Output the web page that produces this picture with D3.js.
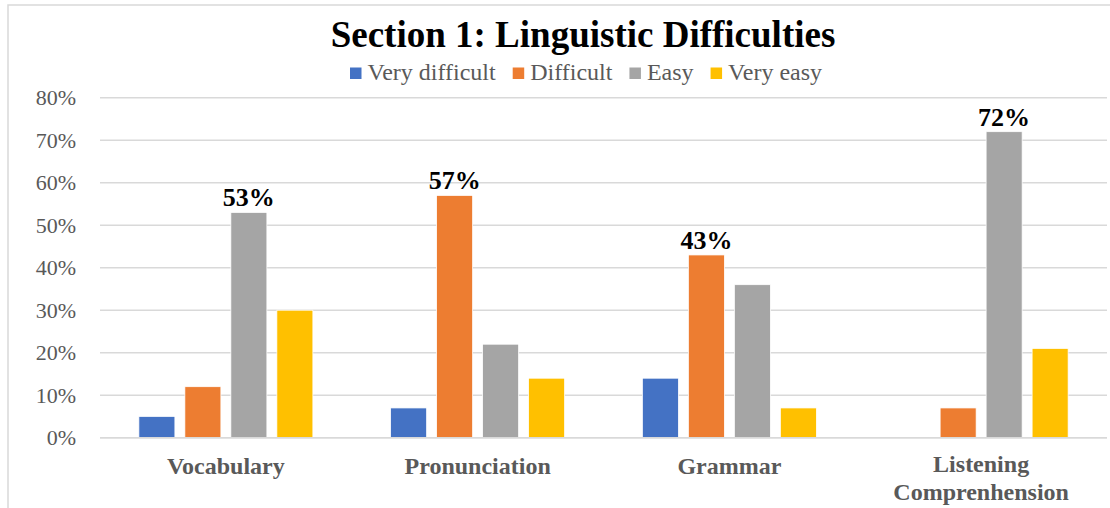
<!DOCTYPE html>
<html>
<head>
<meta charset="utf-8">
<script src="https://cdn.jsdelivr.net/npm/d3@7"></script>
<style>
  body { margin: 0; background: #fff; }
  svg text { font-family: "Liberation Serif", "Times New Roman", serif; }
</style>
</head>
<body>
<svg width="1110" height="508"></svg>
<script>
var categories = ["Vocabulary", "Pronunciation", "Grammar", "Listening Comprenhension"];
var keys = ["Very difficult", "Difficult", "Easy", "Very easy"];
var veryDifficult = [5, 7, 14, 0];
var difficult = [12, 57, 43, 7];
var easy = [53, 22, 36, 72];
var veryEasy = [30, 14, 7, 21];
var yTicks = [0, 10, 20, 30, 40, 50, 60, 70, 80];

var series = [veryDifficult, difficult, easy, veryEasy];
var data = categories.map(function(c, i) {
  var d = {name: c};
  keys.forEach(function(k, j) { d[k] = series[j][i]; });
  return d;
});

var z = d3.scaleOrdinal()
    .domain(keys)
    .range(["#4472c4", "#ed7d31", "#a5a5a5", "#ffc000"]);

var svg = d3.select("svg"),
    left = 100, right = 1107;

// chart border (top and left edges show in the picture)
svg.append("path")
    .attr("d", "M8,508V5H1110")
    .attr("fill", "none")
    .attr("stroke", "#d9d9d9")
    .attr("stroke-width", 1.5);

var x0 = d3.scaleBand()
    .domain(categories)
    .range([left, right]);

var x1 = d3.scaleBand()
    .domain(keys)
    .range([0, 174])
    .paddingInner(0.217);

var y = d3.scaleLinear()
    .domain([0, 80])
    .range([437.7, 97.7]);

// gridlines
svg.append("g")
  .selectAll("line")
  .data(yTicks)
  .enter().append("line")
    .attr("x1", left)
    .attr("x2", right)
    .attr("y1", function(d) { return y(d); })
    .attr("y2", function(d) { return y(d); })
    .attr("stroke", "#d9d9d9")
    .attr("stroke-width", 1.5);

// y axis labels
var yAxis = svg.append("g")
    .attr("transform", "translate(" + left + ",0)")
    .call(d3.axisLeft(y).tickValues(yTicks).tickSize(0).tickPadding(24)
      .tickFormat(function(d) { return d + "%"; }));
yAxis.select(".domain").remove();
yAxis.selectAll("text")
    .attr("font-size", 22)
    .attr("fill", "#595959");

// bars
var groups = svg.append("g")
  .selectAll("g")
  .data(data)
  .enter().append("g")
    .attr("transform", function(d) { return "translate(" + (x0(d.name) + x0.bandwidth() / 2 - 87) + ",0)"; });

groups.selectAll("rect")
  .data(function(d) { return keys.map(function(k) { return {key: k, value: d[k]}; }); })
  .enter().append("rect")
    .attr("x", function(d) { return x1(d.key); })
    .attr("y", function(d) { return y(d.value); })
    .attr("width", x1.bandwidth())
    .attr("height", function(d) { return y(0) - y(d.value); })
    .attr("fill", function(d) { return z(d.key); })
    .attr("stroke", "#fff")
    .attr("stroke-width", 0.75);

// data label on the highest bar of each group
groups.append("text")
    .datum(function(d) {
      var best = keys[0];
      keys.forEach(function(k) { if (d[k] > d[best]) best = k; });
      return {key: best, value: d[best]};
    })
    .attr("x", function(d) { return x1(d.key) + x1.bandwidth() / 2; })
    .attr("y", function(d) { return y(d.value) - 6; })
    .attr("text-anchor", "middle")
    .attr("font-size", 26)
    .attr("font-weight", "bold")
    .attr("fill", "#000")
    .text(function(d) { return d.value + "%"; });

// x baseline
svg.append("line")
    .attr("x1", left)
    .attr("x2", right)
    .attr("y1", y(0))
    .attr("y2", y(0))
    .attr("stroke", "#d9d9d9")
    .attr("stroke-width", 1.5);

// category labels
var catLabels = svg.append("g")
  .selectAll("text")
  .data(categories)
  .enter().append("text")
    .attr("x", function(d) { return x0(d) + x0.bandwidth() / 2; })
    .attr("y", function(d) { return d.indexOf(" ") > 0 ? 472 : 474; })
    .attr("text-anchor", "middle")
    .attr("font-size", 24)
    .attr("font-weight", "bold")
    .attr("fill", "#595959");

catLabels.each(function(d) {
  var t = d3.select(this);
  d.split(" ").forEach(function(w, i) {
    t.append("tspan")
      .attr("x", t.attr("x"))
      .attr("dy", i === 0 ? 0 : 28)
      .text(w);
  });
});

// title
svg.append("text")
    .attr("x", 583)
    .attr("y", 47)
    .attr("text-anchor", "middle")
    .attr("font-size", 37)
    .attr("font-weight", "bold")
    .attr("fill", "#000")
    .text("Section 1: Linguistic Difficulties");

// legend, laid out from the measured text widths
var legend = svg.append("g")
  .selectAll("g")
  .data(keys)
  .enter().append("g");

legend.append("rect")
    .attr("y", 67.5)
    .attr("width", 11.5)
    .attr("height", 11.5)
    .attr("fill", z);

legend.append("text")
    .attr("x", 17.5)
    .attr("y", 80)
    .attr("font-size", 24)
    .attr("fill", "#595959")
    .text(function(d) { return d; });

var lx = 350;
legend.each(function() {
  var g = d3.select(this);
  g.attr("transform", "translate(" + lx + ",0)");
  lx += 17.5 + g.select("text").node().getComputedTextLength() + 17;
});
</script>
</body>
</html>
